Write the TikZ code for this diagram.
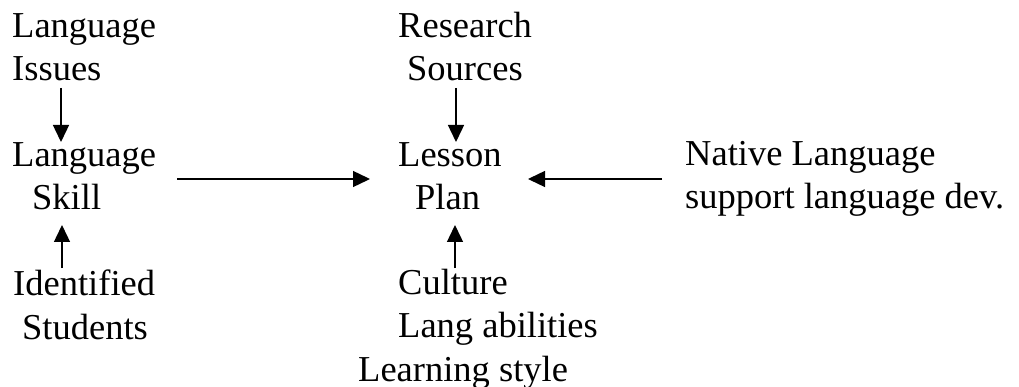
\documentclass[tikz,border=0pt]{standalone}
\usepackage{fontspec}
\setmainfont{Liberation Serif}
\usetikzlibrary{arrows.meta}

\tikzset{
	block/.style={anchor=base west,align=left,inner sep=0pt,font=\fontsize{36.5}{43.5}\selectfont},
	link/.style={-{Triangle[length=17pt,width=16pt]},line width=1.4pt}
}

\begin{document}
\begin{tikzpicture}[x=1pt,y=-1pt]

\useasboundingbox (0,0) rectangle (1019,387);

% blocks are placed at the baseline of their last line
\node (issues)	at (12,81)	[block] {Language\\Issues};
\node (skill)	at (12,210)	[block] {Language\\\hspace*{20pt}Skill};
\node (students)	at (13,339)	[block] {Identified\\\hspace*{9pt}Students};

\node (sources)	at (398,81)	[block] {Research\\\hspace*{9pt}Sources};
\node (plan)	at (398,210)	[block] {Lesson\\\hspace*{17pt}Plan};
\node (culture)	at (358,381)	[block] {\hspace*{40pt}Culture\\\hspace*{40pt}Lang abilities\\Learning style};

\node (native)	at (685,209)	[block] {Native Language\\support language dev.};

%\draw [gray] (0,0) rectangle (1019,387);
\coordinate (issues_out)	at (61,88);
\coordinate (skill_in_top)	at (61,142);
\coordinate (students_out)	at (62,268);
\coordinate (skill_in_bot)	at (62,225);
\coordinate (skill_out)	at (177,179);
\coordinate (plan_in_left)	at (370,179);
\coordinate (sources_out)	at (456,88);
\coordinate (plan_in_top)	at (456,142);
\coordinate (culture_out)	at (455,268);
\coordinate (plan_in_bot)	at (455,225);
\coordinate (native_out)	at (662,179);
\coordinate (plan_in_right)	at (528,179);

\draw [link] (issues_out) to (skill_in_top);
\draw [link] (students_out) to (skill_in_bot);
\draw [link] (skill_out) to (plan_in_left);
\draw [link] (sources_out) to (plan_in_top);
\draw [link] (culture_out) to (plan_in_bot);
\draw [link] (native_out) to (plan_in_right);

\end{tikzpicture}
\end{document}
